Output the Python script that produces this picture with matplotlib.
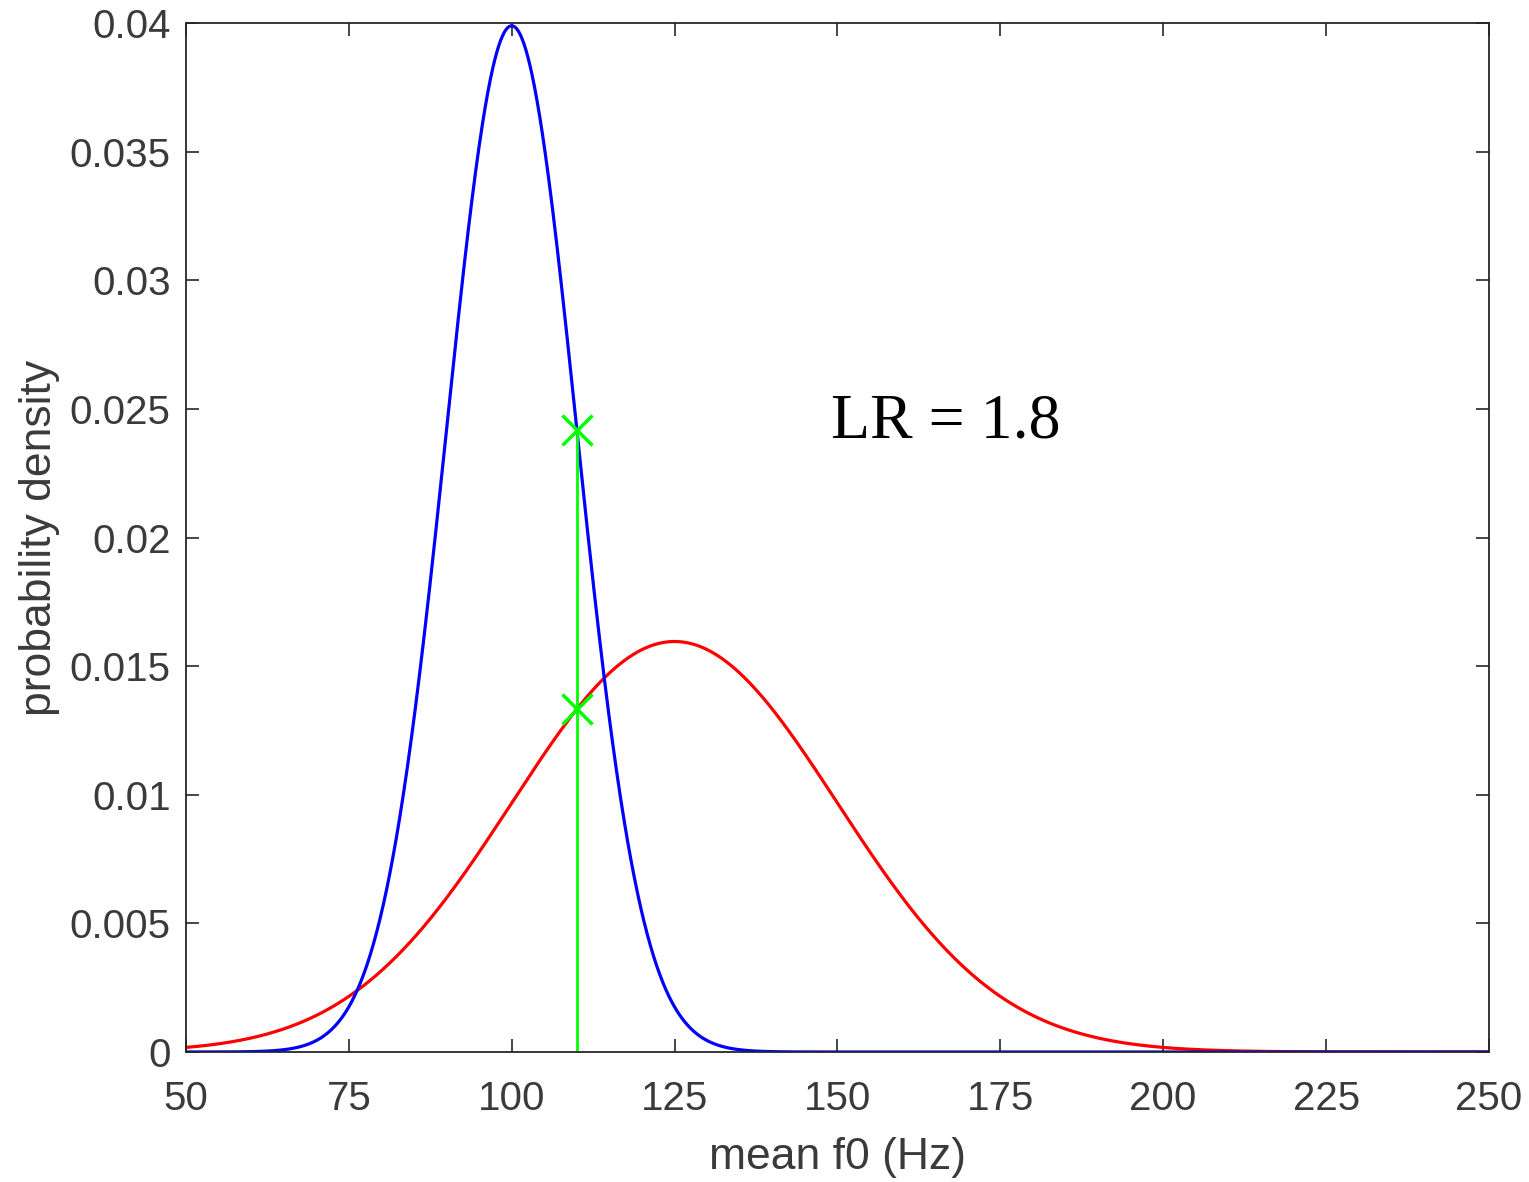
import numpy as np
import matplotlib
import matplotlib.pyplot as plt

matplotlib.use("Agg")

# Distribution parameters (mean f0 in Hz)
suspect_mean, suspect_sd = 100.0, 10.0     # blue: same-speaker
population_mean, population_sd = 125.0, 25.0  # red: background population
evidence_f0 = 110.0
lr_label = "LR = 1.8"

x_ticks = [50, 75, 100, 125, 150, 175, 200, 225, 250]
y_ticks = [0, 0.005, 0.01, 0.015, 0.02, 0.025, 0.03, 0.035, 0.04]
y_tick_labels = ["0", "0.005", "0.01", "0.015", "0.02", "0.025", "0.03", "0.035", "0.04"]


def normal_pdf(x, mu, sd):
    return np.exp(-0.5 * ((x - mu) / sd) ** 2) / (sd * np.sqrt(2 * np.pi))


plt.rcParams["font.family"] = ["Liberation Sans", "DejaVu Sans"]
axis_color = "#262626"
text_color = "#3a3a3a"

fig = plt.figure(figsize=(15.29, 11.82), dpi=100)
ax = fig.add_axes([0.1216, 0.1100, 0.8522, 0.8705])

x = np.linspace(50, 250, 2001)
ax.plot(x, normal_pdf(x, population_mean, population_sd), color="#ff0000", lw=2.3)
ax.plot(x, normal_pdf(x, suspect_mean, suspect_sd), color="#0000ff", lw=2.3)

y_num = normal_pdf(evidence_f0, suspect_mean, suspect_sd)
y_den = normal_pdf(evidence_f0, population_mean, population_sd)
ax.plot([evidence_f0, evidence_f0], [0, y_num], color="#00ff00", lw=2.0)
ax.plot([evidence_f0, evidence_f0], [y_num, y_den], ls="none", marker="x",
        color="#00ff00", ms=22, mew=2.5)

ax.text(149, 0.0239, lr_label, family=["Liberation Serif", "DejaVu Serif"],
        fontsize=46, color="black", va="baseline", ha="left")

ax.set_xlim(50, 250)
ax.set_ylim(0, 0.04)
ax.set_xticks(x_ticks)
ax.set_yticks(y_ticks)
ax.set_yticklabels(y_tick_labels)
ax.tick_params(direction="in", length=9.5, width=1.2, colors=axis_color,
               labelcolor=text_color, labelsize=29, top=True, right=True)
ax.tick_params(axis="x", pad=20)
ax.tick_params(axis="y", pad=11)
for s in ax.spines.values():
    s.set_color(axis_color)
    s.set_linewidth(1.3)

ax.set_xlabel("mean f0 (Hz)", fontsize=32, color=text_color, labelpad=14)
ax.set_ylabel("probability density", fontsize=32, color=text_color, labelpad=7)

fig.savefig("out.png", dpi=100)
plt.close(fig)
